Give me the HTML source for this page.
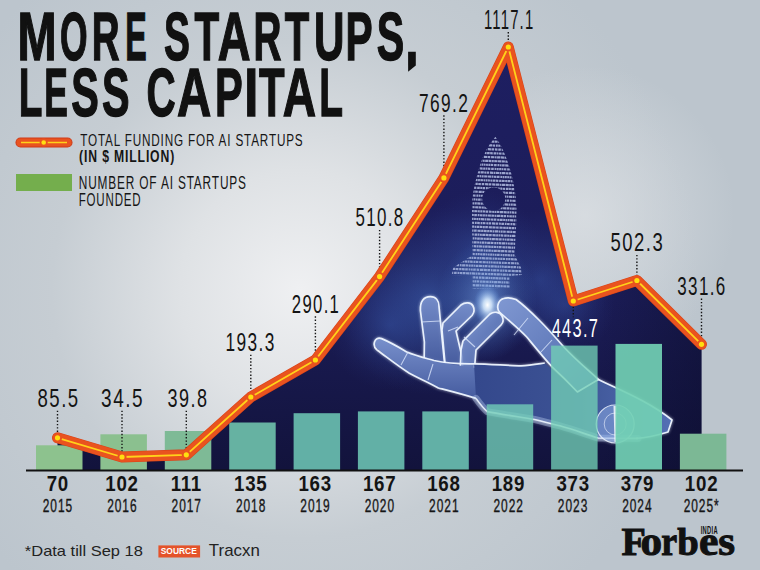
<!DOCTYPE html>
<html><head><meta charset="utf-8">
<style>
html,body{margin:0;padding:0;width:760px;height:570px;overflow:hidden;background:#c3cad1}
svg{display:block}
</style></head><body>
<svg width="760" height="570" viewBox="0 0 760 570">
<defs>
<radialGradient id="bg" cx="300" cy="290" r="400" gradientUnits="userSpaceOnUse">
<stop offset="0" stop-color="#eff0f2"/>
<stop offset="0.3" stop-color="#dfe2e5"/>
<stop offset="0.62" stop-color="#c6cdd3"/>
<stop offset="1" stop-color="#bcc5cd"/>
</radialGradient>
<radialGradient id="bg2" cx="585" cy="215" r="150" gradientUnits="userSpaceOnUse">
<stop offset="0" stop-color="#dde1e5" stop-opacity="0.75"/>
<stop offset="1" stop-color="#dde1e5" stop-opacity="0"/>
</radialGradient>
<linearGradient id="navy" x1="0" y1="47" x2="0" y2="470" gradientUnits="userSpaceOnUse">
<stop offset="0" stop-color="#1e1f62"/>
<stop offset="0.6" stop-color="#1b1c56"/>
<stop offset="1" stop-color="#12133c"/>
</linearGradient>
<radialGradient id="haze1" cx="430" cy="300" r="95" gradientUnits="userSpaceOnUse">
<stop offset="0" stop-color="#4068b8" stop-opacity="0.6"/>
<stop offset="1" stop-color="#2a3c88" stop-opacity="0"/>
</radialGradient>
<radialGradient id="haze2" cx="540" cy="280" r="70" gradientUnits="userSpaceOnUse">
<stop offset="0" stop-color="#3a5cb0" stop-opacity="0.45"/>
<stop offset="1" stop-color="#2a3c88" stop-opacity="0"/>
</radialGradient>
<radialGradient id="haze3" cx="480" cy="250" r="60" gradientUnits="userSpaceOnUse">
<stop offset="0" stop-color="#3a5cb0" stop-opacity="0.45"/>
<stop offset="1" stop-color="#2a3c88" stop-opacity="0"/>
</radialGradient>
<radialGradient id="haze4" cx="390" cy="325" r="65" gradientUnits="userSpaceOnUse">
<stop offset="0" stop-color="#3a5cb0" stop-opacity="0.4"/>
<stop offset="1" stop-color="#2a3c88" stop-opacity="0"/>
</radialGradient>
<radialGradient id="haze5" cx="565" cy="305" r="50" gradientUnits="userSpaceOnUse">
<stop offset="0" stop-color="#3a5cb0" stop-opacity="0.35"/>
<stop offset="1" stop-color="#2a3c88" stop-opacity="0"/>
</radialGradient>
<radialGradient id="glow" cx="0.5" cy="0.5" r="0.5">
<stop offset="0" stop-color="#ffffff" stop-opacity="1"/>
<stop offset="0.3" stop-color="#d8ecff" stop-opacity="0.85"/>
<stop offset="1" stop-color="#5a90e0" stop-opacity="0"/>
</radialGradient>
<radialGradient id="beam" cx="0.5" cy="0.5" r="0.5">
<stop offset="0" stop-color="#7fb0f0" stop-opacity="0.6"/>
<stop offset="1" stop-color="#4070c0" stop-opacity="0"/>
</radialGradient>
<linearGradient id="rdark" x1="600" y1="0" x2="701" y2="0" gradientUnits="userSpaceOnUse">
<stop offset="0" stop-color="#0b0d2c" stop-opacity="0"/>
<stop offset="1" stop-color="#0b0d2c" stop-opacity="0.45"/>
</linearGradient>
<linearGradient id="gfing" x1="0" y1="0" x2="0" y2="1">
<stop offset="0" stop-color="#7890cc"/>
<stop offset="1" stop-color="#42589c"/>
</linearGradient>
<linearGradient id="gfing2" x1="0" y1="0" x2="1" y2="1">
<stop offset="0" stop-color="#8098d2"/>
<stop offset="1" stop-color="#4c66aa"/>
</linearGradient>
<linearGradient id="gpalm" x1="0" y1="0" x2="1" y2="0">
<stop offset="0" stop-color="#34488c"/>
<stop offset="0.5" stop-color="#3c5294"/>
<stop offset="1" stop-color="#5470b4"/>
</linearGradient>
<filter id="soft" x="-20%" y="-20%" width="140%" height="140%"><feGaussianBlur stdDeviation="1.6"/></filter>
<clipPath id="navyclip"><polygon points="57.5,437.8 122,457 186.3,454.8 250.8,397 315.4,360 379.6,276.6 443.9,177.9 508.3,47 573.3,301 636.9,280.5 701.5,344.3 701.5,470 57.5,470"/></clipPath>
<clipPath id="rocketclip"><path d="M495.4,136.8 C487,146 481,160 477.9,172.6 C474,186 472,197 472,207.7 C472,225 472.3,240 472.6,255 L453.3,267.4 L451.6,275 L472.6,276 L472.6,288.4 L509.5,288.4 L509.5,276 L521.8,275 L521,267.4 L514.7,255 C515.5,240 516.5,225 516.5,207.7 C516,195 514,184 511,172.6 C507,158 502,146 495.4,136.8 Z M493.7,199 m-11.5,0 a11.5,11.5 0 1,0 23,0 a11.5,11.5 0 1,0 -23,0 Z" clip-rule="evenodd"/></clipPath>
</defs>
<rect width="760" height="570" fill="url(#bg)"/>
<rect width="760" height="570" fill="url(#bg2)"/>
<polygon points="57.5,437.8 122,457 186.3,454.8 250.8,397 315.4,360 379.6,276.6 443.9,177.9 508.3,47 573.3,301 636.9,280.5 701.5,344.3 701.5,470 57.5,470" fill="url(#navy)"/>
<g clip-path="url(#navyclip)">
<rect x="600" y="250" width="102" height="220" fill="url(#rdark)"/>
<rect x="300" y="180" width="400" height="290" fill="url(#haze1)"/>
<rect x="300" y="180" width="400" height="290" fill="url(#haze2)"/>
<rect x="300" y="180" width="400" height="290" fill="url(#haze3)"/>
<rect x="300" y="180" width="400" height="290" fill="url(#haze4)"/>
<rect x="300" y="180" width="400" height="290" fill="url(#haze5)"/>
<g clip-path="url(#rocketclip)" stroke="#a8b2d8" stroke-width="2.2" stroke-opacity="0.9"><line x1="445" y1="136.0" x2="530" y2="139.0" stroke-dasharray="2.6 0.5 3.2 0.5 3.2 0.5 2.6 0.5 1.8 0.5 3.2 0.5 2.6 0.8 3.2 0.5 1.8 0.5 3.2 0.5"/><line x1="445" y1="139.9" x2="530" y2="142.9" stroke-dasharray="1.8 0.5 2.6 0.8 1.8 0.5 3.2 0.5 2.6 0.5 2.6 0.5 2.6 0.8 3.2 0.5 3.2 0.5 2.6 0.8"/><line x1="445" y1="143.8" x2="530" y2="146.8" stroke-dasharray="2.6 0.8 2.6 0.5 2.6 0.5 2.6 0.5 3.2 0.5 2.6 0.8 1.8 0.5 1.8 0.5 2.6 0.5 3.2 0.5"/><line x1="445" y1="147.7" x2="530" y2="150.7" stroke-dasharray="1.8 0.5 1.8 0.5 1.8 0.5 1.8 0.5 2.6 0.8 3.2 0.5 2.6 0.8 2.6 0.8 2.6 0.8 3.2 0.5"/><line x1="445" y1="151.6" x2="530" y2="154.6" stroke-dasharray="2.6 0.8 2.6 0.5 1.8 0.5 1.8 0.5 1.8 0.5 2.6 0.5 2.6 0.8 2.6 0.5 1.8 0.5 2.6 0.8"/><line x1="445" y1="155.5" x2="530" y2="158.5" stroke-dasharray="1.8 0.5 2.6 0.8 3.2 0.5 2.6 0.8 3.2 0.5 1.8 0.5 3.2 0.5 3.2 0.5 2.6 0.8 3.2 0.5"/><line x1="445" y1="159.4" x2="530" y2="162.4" stroke-dasharray="2.6 0.5 1.8 0.5 1.8 0.5 1.8 0.5 3.2 0.5 2.6 0.5 1.8 0.5 3.2 0.5 3.2 0.5 3.2 0.5"/><line x1="445" y1="163.3" x2="530" y2="166.3" stroke-dasharray="1.8 0.5 2.6 0.5 3.2 0.5 1.8 0.5 1.8 0.5 1.8 0.5 1.8 0.5 2.6 0.8 2.6 0.8 1.8 0.5"/><line x1="445" y1="167.2" x2="530" y2="170.2" stroke-dasharray="1.8 0.5 1.8 0.5 2.6 0.8 2.6 0.5 1.8 0.5 1.8 0.5 2.6 0.8 2.6 0.8 1.8 0.5 1.8 0.5"/><line x1="445" y1="171.1" x2="530" y2="174.1" stroke-dasharray="3.2 0.5 3.2 0.5 1.8 0.5 2.6 0.8 3.2 0.5 1.8 0.5 3.2 0.5 1.8 0.5 3.2 0.5 2.6 0.5"/><line x1="445" y1="175.0" x2="530" y2="178.0" stroke-dasharray="1.8 0.5 1.8 0.5 1.8 0.5 1.8 0.5 1.8 0.5 3.2 0.5 3.2 0.5 1.8 0.5 2.6 0.5 2.6 0.8"/><line x1="445" y1="178.9" x2="530" y2="181.9" stroke-dasharray="1.8 0.5 3.2 0.5 1.8 0.5 2.6 0.5 1.8 0.5 1.8 0.5 1.8 0.5 1.8 0.5 2.6 0.5 2.6 0.8"/><line x1="445" y1="182.8" x2="530" y2="185.8" stroke-dasharray="2.6 0.8 2.6 0.8 3.2 0.5 2.6 0.8 3.2 0.5 3.2 0.5 1.8 0.5 3.2 0.5 3.2 0.5 1.8 0.5"/><line x1="445" y1="186.7" x2="530" y2="189.7" stroke-dasharray="2.6 0.8 2.6 0.5 1.8 0.5 2.6 0.8 1.8 0.5 3.2 0.5 1.8 0.5 3.2 0.5 1.8 0.5 1.8 0.5"/><line x1="445" y1="190.6" x2="530" y2="193.6" stroke-dasharray="2.6 0.8 3.2 0.5 1.8 0.5 1.8 0.5 2.6 0.8 3.2 0.5 3.2 0.5 2.6 0.5 1.8 0.5 1.8 0.5"/><line x1="445" y1="194.5" x2="530" y2="197.5" stroke-dasharray="2.6 0.8 1.8 0.5 1.8 0.5 3.2 0.5 1.8 0.5 2.6 0.8 1.8 0.5 3.2 0.5 1.8 0.5 1.8 0.5"/><line x1="445" y1="198.4" x2="530" y2="201.4" stroke-dasharray="1.8 0.5 1.8 0.5 2.6 0.8 1.8 0.5 3.2 0.5 3.2 0.5 1.8 0.5 2.6 0.5 1.8 0.5 2.6 0.5"/><line x1="445" y1="202.3" x2="530" y2="205.3" stroke-dasharray="1.8 0.5 1.8 0.5 3.2 0.5 1.8 0.5 1.8 0.5 2.6 0.8 1.8 0.5 1.8 0.5 3.2 0.5 2.6 0.5"/><line x1="445" y1="206.2" x2="530" y2="209.2" stroke-dasharray="1.8 0.5 3.2 0.5 2.6 0.5 1.8 0.5 2.6 0.5 1.8 0.5 2.6 0.5 2.6 0.8 1.8 0.5 1.8 0.5"/><line x1="445" y1="210.1" x2="530" y2="213.1" stroke-dasharray="3.2 0.5 1.8 0.5 1.8 0.5 2.6 0.5 2.6 0.8 2.6 0.5 1.8 0.5 1.8 0.5 2.6 0.5 3.2 0.5"/><line x1="445" y1="214.0" x2="530" y2="217.0" stroke-dasharray="2.6 0.8 1.8 0.5 2.6 0.5 1.8 0.5 1.8 0.5 3.2 0.5 2.6 0.5 1.8 0.5 3.2 0.5 2.6 0.5"/><line x1="445" y1="217.9" x2="530" y2="220.9" stroke-dasharray="1.8 0.5 1.8 0.5 1.8 0.5 3.2 0.5 1.8 0.5 3.2 0.5 2.6 0.5 2.6 0.8 1.8 0.5 3.2 0.5"/><line x1="445" y1="221.8" x2="530" y2="224.8" stroke-dasharray="1.8 0.5 2.6 0.8 1.8 0.5 2.6 0.8 1.8 0.5 2.6 0.8 3.2 0.5 2.6 0.8 1.8 0.5 2.6 0.8"/><line x1="445" y1="225.7" x2="530" y2="228.7" stroke-dasharray="2.6 0.5 2.6 0.5 1.8 0.5 2.6 0.8 3.2 0.5 3.2 0.5 2.6 0.8 3.2 0.5 2.6 0.5 1.8 0.5"/><line x1="445" y1="229.6" x2="530" y2="232.6" stroke-dasharray="2.6 0.8 3.2 0.5 1.8 0.5 3.2 0.5 1.8 0.5 2.6 0.5 1.8 0.5 3.2 0.5 1.8 0.5 1.8 0.5"/><line x1="445" y1="233.5" x2="530" y2="236.5" stroke-dasharray="2.6 0.5 1.8 0.5 1.8 0.5 3.2 0.5 2.6 0.5 2.6 0.8 3.2 0.5 1.8 0.5 1.8 0.5 2.6 0.8"/><line x1="445" y1="237.4" x2="530" y2="240.4" stroke-dasharray="1.8 0.5 2.6 0.5 3.2 0.5 1.8 0.5 2.6 0.5 1.8 0.5 3.2 0.5 3.2 0.5 2.6 0.8 1.8 0.5"/><line x1="445" y1="241.3" x2="530" y2="244.3" stroke-dasharray="3.2 0.5 1.8 0.5 1.8 0.5 2.6 0.5 1.8 0.5 3.2 0.5 2.6 0.8 1.8 0.5 1.8 0.5 2.6 0.5"/><line x1="445" y1="245.2" x2="530" y2="248.2" stroke-dasharray="2.6 0.5 1.8 0.5 3.2 0.5 1.8 0.5 2.6 0.5 2.6 0.5 1.8 0.5 2.6 0.5 1.8 0.5 2.6 0.8"/><line x1="445" y1="249.1" x2="530" y2="252.1" stroke-dasharray="3.2 0.5 2.6 0.8 1.8 0.5 1.8 0.5 2.6 0.5 1.8 0.5 3.2 0.5 3.2 0.5 3.2 0.5 2.6 0.8"/><line x1="445" y1="253.0" x2="530" y2="256.0" stroke-dasharray="1.8 0.5 2.6 0.8 1.8 0.5 1.8 0.5 1.8 0.5 2.6 0.5 1.8 0.5 1.8 0.5 1.8 0.5 1.8 0.5"/><line x1="445" y1="256.9" x2="530" y2="259.9" stroke-dasharray="2.6 0.8 1.8 0.5 1.8 0.5 3.2 0.5 3.2 0.5 2.6 0.8 1.8 0.5 2.6 0.5 1.8 0.5 1.8 0.5"/><line x1="445" y1="260.8" x2="530" y2="263.8" stroke-dasharray="1.8 0.5 2.6 0.8 2.6 0.8 3.2 0.5 1.8 0.5 1.8 0.5 1.8 0.5 2.6 0.5 1.8 0.5 2.6 0.8"/><line x1="445" y1="264.7" x2="530" y2="267.7" stroke-dasharray="1.8 0.5 2.6 0.5 3.2 0.5 1.8 0.5 2.6 0.8 1.8 0.5 3.2 0.5 2.6 0.5 1.8 0.5 1.8 0.5"/><line x1="445" y1="268.6" x2="530" y2="271.6" stroke-dasharray="2.6 0.8 3.2 0.5 3.2 0.5 2.6 0.8 1.8 0.5 3.2 0.5 2.6 0.8 1.8 0.5 1.8 0.5 2.6 0.8"/><line x1="445" y1="272.5" x2="530" y2="275.5" stroke-dasharray="1.8 0.5 2.6 0.8 2.6 0.8 2.6 0.8 1.8 0.5 2.6 0.5 2.6 0.5 3.2 0.5 1.8 0.5 3.2 0.5"/><line x1="445" y1="276.4" x2="530" y2="279.4" stroke-dasharray="1.8 0.5 2.6 0.8 2.6 0.5 2.6 0.8 2.6 0.5 1.8 0.5 1.8 0.5 1.8 0.5 3.2 0.5 1.8 0.5"/><line x1="445" y1="280.3" x2="530" y2="283.3" stroke-dasharray="1.8 0.5 2.6 0.8 1.8 0.5 3.2 0.5 2.6 0.8 1.8 0.5 1.8 0.5 3.2 0.5 3.2 0.5 1.8 0.5"/><line x1="445" y1="284.2" x2="530" y2="287.2" stroke-dasharray="3.2 0.5 1.8 0.5 2.6 0.8 2.6 0.5 2.6 0.5 2.6 0.8 1.8 0.5 3.2 0.5 1.8 0.5 3.2 0.5"/><line x1="445" y1="288.1" x2="530" y2="291.1" stroke-dasharray="1.8 0.5 2.6 0.8 2.6 0.5 1.8 0.5 1.8 0.5 1.8 0.5 1.8 0.5 1.8 0.5 2.6 0.8 1.8 0.5"/><line x1="445" y1="292.0" x2="530" y2="295.0" stroke-dasharray="3.2 0.5 1.8 0.5 1.8 0.5 1.8 0.5 3.2 0.5 3.2 0.5 3.2 0.5 2.6 0.5 1.8 0.5 3.2 0.5"/></g>
<ellipse cx="487" cy="300" rx="50" ry="60" fill="url(#beam)"/><ellipse cx="487.5" cy="305" rx="14" ry="20" fill="url(#glow)"/>
<g filter="url(#soft)" opacity="0.7"><path d="M420.4,310.5 C420,301 424,296.7 430.3,296.7 C436,296.7 439,301 439,306.6 L442,338 L444,358 L446,374 L424,374 L424.4,342 Z" fill="url(#gfing)" fill-opacity="0.85" stroke="#eef5ff" stroke-opacity="0.95" stroke-width="1.7" stroke-linejoin="round"/><path d="M443,323 L461,305 C465,302 471,302 473,306 C475,310 474,313 472,315.5 L456,331 L462,357 L463,374 L446,374 L442,330 Z" fill="url(#gfing)" fill-opacity="0.85" stroke="#eef5ff" stroke-opacity="0.95" stroke-width="1.7" stroke-linejoin="round"/><path d="M463,341 L490,314 C494,311 500,312 502,316 C504,320 503,323 501,325 L476,350 L474,374 L460,374 L461,350 Z" fill="url(#gfing2)" fill-opacity="0.85" stroke="#eef5ff" stroke-opacity="0.95" stroke-width="1.7" stroke-linejoin="round"/><path d="M381.6,338.6 C392,343 400,348 406.8,352 C416,356 425,358 434,360.5 C450,364 462,367 490,369 L490,402 C462,394 450,391 438.4,388 C428,382 418,378 409,373 C398,366 388,358 379.5,350 C372,346 374,336 381.6,338.6 Z" fill="url(#gfing)"/><path d="M474,363.8 C490,364 510,365.8 521,365.8 C530,365.5 538,364 544.8,363 L577.4,392 L598.4,379.5 C620,390 650,402 672,420 L668,432 C655,436 645,438 636,438.4 L598,438.4 C580,434 565,428 560,425.8 C550,423 540,421 534.7,419.5 C515,417 500,414 487.4,411.6 C482,408 478,402 476,398.4 Z" fill="url(#gpalm)"/><path d="M377,350 C372,346 374,336 381.6,338.6 C392,343 400,348 406.8,352 C416,356 425,358 434,360.5 C450,364 462,364 474,363.8 C490,364 510,365.8 521,365.8 C530,365.5 538,364 544.8,363" fill="none" stroke="#eef5ff" stroke-opacity="0.95" stroke-width="1.7" stroke-linejoin="round"/><path d="M377,350 C388,358 398,366 409,373 C418,378 428,382 438.4,388 C450,391 462,394 476,398.4" fill="none" stroke="#eef5ff" stroke-opacity="0.95" stroke-width="1.7" stroke-linejoin="round"/><path d="M598.4,379.5 C620,390 650,402 672,420 L668,432 C655,436 645,438 636,438.4" fill="none" stroke="#eef5ff" stroke-opacity="0.95" stroke-width="1.7" stroke-linejoin="round"/><path d="M503.7,298.5 C508,297 512,298 516,299.5 C525,306 532,313 539.5,320.5 C548,329 556,338 564.7,348 C576,360 588,370 598.4,379.5 L577.4,392 C570,384 560,374 552,366.8 C543,357 535,347 526.8,337 C518,328 508,320 499.5,312 C496,308 498,300 503.7,298.5 Z" fill="url(#gfing2)" stroke="#eef5ff" stroke-opacity="0.95" stroke-width="1.7" stroke-linejoin="round"/><path d="M476,398.4 C480,404 484,409 487.4,411.6 C500,414 520,417 534.7,419.5 C545,422 552,424 560,425.8 C575,430 585,434 598,438 L638,438.4" fill="none" stroke="#cfe3ff" stroke-opacity="0.35" stroke-width="7" stroke-linecap="round"/><path d="M476,398.4 C480,404 484,409 487.4,411.6 C500,414 520,417 534.7,419.5 C545,422 552,424 560,425.8 C575,430 585,434 598,438 L638,438.4" fill="none" stroke="#f0f6ff" stroke-opacity="0.9" stroke-width="1.6"/><path d="M408,352 L401,365 M433,364 L428,380 M421,322 L440,321 M448,331 L458,327 M475,347 L464,337 M528,318 L514,335 M552,340 L540,353" stroke="#dfeaff" stroke-opacity="0.75" stroke-width="1.1" fill="none"/><circle cx="615.2" cy="424" r="19" fill="#8fb0e8" fill-opacity="0.5" stroke="#eef4ff" stroke-opacity="0.85" stroke-width="1.2"/><circle cx="615.2" cy="424" r="11" fill="none" stroke="#eef4ff" stroke-opacity="0.6" stroke-width="1"/><path d="M613.5,406 L617,406 L616,442 L614.5,442 Z" fill="#ffffff" fill-opacity="0.8"/></g>
<path d="M420.4,310.5 C420,301 424,296.7 430.3,296.7 C436,296.7 439,301 439,306.6 L442,338 L444,358 L446,374 L424,374 L424.4,342 Z" fill="url(#gfing)" fill-opacity="0.85" stroke="#eef5ff" stroke-opacity="0.95" stroke-width="1.7" stroke-linejoin="round"/><path d="M443,323 L461,305 C465,302 471,302 473,306 C475,310 474,313 472,315.5 L456,331 L462,357 L463,374 L446,374 L442,330 Z" fill="url(#gfing)" fill-opacity="0.85" stroke="#eef5ff" stroke-opacity="0.95" stroke-width="1.7" stroke-linejoin="round"/><path d="M463,341 L490,314 C494,311 500,312 502,316 C504,320 503,323 501,325 L476,350 L474,374 L460,374 L461,350 Z" fill="url(#gfing2)" fill-opacity="0.85" stroke="#eef5ff" stroke-opacity="0.95" stroke-width="1.7" stroke-linejoin="round"/><path d="M381.6,338.6 C392,343 400,348 406.8,352 C416,356 425,358 434,360.5 C450,364 462,367 490,369 L490,402 C462,394 450,391 438.4,388 C428,382 418,378 409,373 C398,366 388,358 379.5,350 C372,346 374,336 381.6,338.6 Z" fill="url(#gfing)"/><path d="M474,363.8 C490,364 510,365.8 521,365.8 C530,365.5 538,364 544.8,363 L577.4,392 L598.4,379.5 C620,390 650,402 672,420 L668,432 C655,436 645,438 636,438.4 L598,438.4 C580,434 565,428 560,425.8 C550,423 540,421 534.7,419.5 C515,417 500,414 487.4,411.6 C482,408 478,402 476,398.4 Z" fill="url(#gpalm)"/><path d="M377,350 C372,346 374,336 381.6,338.6 C392,343 400,348 406.8,352 C416,356 425,358 434,360.5 C450,364 462,364 474,363.8 C490,364 510,365.8 521,365.8 C530,365.5 538,364 544.8,363" fill="none" stroke="#eef5ff" stroke-opacity="0.95" stroke-width="1.7" stroke-linejoin="round"/><path d="M377,350 C388,358 398,366 409,373 C418,378 428,382 438.4,388 C450,391 462,394 476,398.4" fill="none" stroke="#eef5ff" stroke-opacity="0.95" stroke-width="1.7" stroke-linejoin="round"/><path d="M598.4,379.5 C620,390 650,402 672,420 L668,432 C655,436 645,438 636,438.4" fill="none" stroke="#eef5ff" stroke-opacity="0.95" stroke-width="1.7" stroke-linejoin="round"/><path d="M503.7,298.5 C508,297 512,298 516,299.5 C525,306 532,313 539.5,320.5 C548,329 556,338 564.7,348 C576,360 588,370 598.4,379.5 L577.4,392 C570,384 560,374 552,366.8 C543,357 535,347 526.8,337 C518,328 508,320 499.5,312 C496,308 498,300 503.7,298.5 Z" fill="url(#gfing2)" stroke="#eef5ff" stroke-opacity="0.95" stroke-width="1.7" stroke-linejoin="round"/><path d="M476,398.4 C480,404 484,409 487.4,411.6 C500,414 520,417 534.7,419.5 C545,422 552,424 560,425.8 C575,430 585,434 598,438 L638,438.4" fill="none" stroke="#cfe3ff" stroke-opacity="0.35" stroke-width="7" stroke-linecap="round"/><path d="M476,398.4 C480,404 484,409 487.4,411.6 C500,414 520,417 534.7,419.5 C545,422 552,424 560,425.8 C575,430 585,434 598,438 L638,438.4" fill="none" stroke="#f0f6ff" stroke-opacity="0.9" stroke-width="1.6"/><path d="M408,352 L401,365 M433,364 L428,380 M421,322 L440,321 M448,331 L458,327 M475,347 L464,337 M528,318 L514,335 M552,340 L540,353" stroke="#dfeaff" stroke-opacity="0.75" stroke-width="1.1" fill="none"/><circle cx="615.2" cy="424" r="19" fill="#8fb0e8" fill-opacity="0.5" stroke="#eef4ff" stroke-opacity="0.85" stroke-width="1.2"/><circle cx="615.2" cy="424" r="11" fill="none" stroke="#eef4ff" stroke-opacity="0.6" stroke-width="1"/><path d="M613.5,406 L617,406 L616,442 L614.5,442 Z" fill="#ffffff" fill-opacity="0.8"/>
</g>
<g><rect x="36.0" y="445.3" width="46.5" height="24.7" fill="#8dc28e"/><rect x="100.4" y="434.3" width="46.5" height="35.7" fill="#8bc08f"/><rect x="164.8" y="431" width="46.5" height="39.0" fill="#7eba96"/><rect x="229.2" y="422.5" width="46.5" height="47.5" fill="#66b2a2"/><rect x="293.6" y="413.2" width="46.5" height="56.8" fill="#62b0a6"/><rect x="357.9" y="411.4" width="46.5" height="58.6" fill="#62b0a6"/><rect x="422.3" y="411.4" width="46.5" height="58.6" fill="#62b0a6"/><rect x="486.7" y="404.3" width="46.5" height="65.7" fill="#72cdb8" fill-opacity="0.8"/><rect x="551.1" y="345.6" width="46.5" height="124.4" fill="#72d0b6" fill-opacity="0.78"/><rect x="615.5" y="343.9" width="46.5" height="126.1" fill="#72d0b4" fill-opacity="0.92"/><rect x="679.9" y="433.7" width="46.5" height="36.3" fill="#7cb895"/></g>
<line x1="26" y1="470.5" x2="743" y2="470.5" stroke="#111" stroke-width="2"/>
<g stroke="#151515" stroke-width="1.4" stroke-dasharray="1.4 1.9"><line x1="57.5" y1="410.7" x2="57.5" y2="432.3"/><line x1="122" y1="410.7" x2="122" y2="451.5"/><line x1="186.3" y1="410.7" x2="186.3" y2="449.3"/><line x1="250.8" y1="354.7" x2="250.8" y2="391.5"/><line x1="315.4" y1="316.3" x2="315.4" y2="354.5"/><line x1="379.6" y1="229.9" x2="379.6" y2="271.1"/><line x1="443.9" y1="115.3" x2="443.9" y2="172.4"/><line x1="508.3" y1="32.0" x2="508.3" y2="41.5"/><line x1="573.3" y1="306.5" x2="573.3" y2="317.2"/><line x1="636.9" y1="254.9" x2="636.9" y2="275.0"/><line x1="701.5" y1="298.6" x2="701.5" y2="338.8"/></g>
<polyline points="57.5,437.8 122,457 186.3,454.8 250.8,397 315.4,360 379.6,276.6 443.9,177.9 508.3,47 573.3,301 636.9,280.5 701.5,344.3" fill="none" stroke="#d9431b" stroke-width="11" stroke-linejoin="round" stroke-linecap="round"/>
<polyline points="57.5,437.8 122,457 186.3,454.8 250.8,397 315.4,360 379.6,276.6 443.9,177.9 508.3,47 573.3,301 636.9,280.5 701.5,344.3" fill="none" stroke="#e9531f" stroke-width="9.8" stroke-linejoin="round" stroke-linecap="round"/>
<polyline points="57.5,437.8 122,457 186.3,454.8 250.8,397 315.4,360 379.6,276.6 443.9,177.9 508.3,47 573.3,301 636.9,280.5 701.5,344.3" fill="none" stroke="#ffd21a" stroke-width="1.8" stroke-linejoin="round"/>
<g fill="#e9531f"><circle cx="57.5" cy="437.8" r="4.6"/><circle cx="122" cy="457" r="4.6"/><circle cx="186.3" cy="454.8" r="4.6"/><circle cx="250.8" cy="397" r="4.6"/><circle cx="315.4" cy="360" r="4.6"/><circle cx="379.6" cy="276.6" r="4.6"/><circle cx="443.9" cy="177.9" r="4.6"/><circle cx="508.3" cy="47" r="4.6"/><circle cx="573.3" cy="301" r="4.6"/><circle cx="636.9" cy="280.5" r="4.6"/><circle cx="701.5" cy="344.3" r="4.6"/></g>
<g fill="#ffdf10"><circle cx="57.5" cy="437.8" r="2.6"/><circle cx="122" cy="457" r="2.6"/><circle cx="186.3" cy="454.8" r="2.6"/><circle cx="250.8" cy="397" r="2.6"/><circle cx="315.4" cy="360" r="2.6"/><circle cx="379.6" cy="276.6" r="2.6"/><circle cx="443.9" cy="177.9" r="2.6"/><circle cx="508.3" cy="47" r="2.6"/><circle cx="573.3" cy="301" r="2.6"/><circle cx="636.9" cy="280.5" r="2.6"/><circle cx="701.5" cy="344.3" r="2.6"/></g>
<g><text transform="translate(37.48,406.94) scale(0.7126,1)" font-size="26.13" font-weight="normal" style="font-family:'Liberation Sans',sans-serif" fill="#141414" letter-spacing="2.09">85.5</text><text transform="translate(101.08,406.94) scale(0.7269,1)" font-size="26.13" font-weight="normal" style="font-family:'Liberation Sans',sans-serif" fill="#141414" letter-spacing="2.09">34.5</text><text transform="translate(167.61,406.94) scale(0.6912,1)" font-size="26.13" font-weight="normal" style="font-family:'Liberation Sans',sans-serif" fill="#141414" letter-spacing="2.09">39.8</text><text transform="translate(225.58,350.94) scale(0.6593,1)" font-size="26.27" font-weight="normal" style="font-family:'Liberation Sans',sans-serif" fill="#141414" letter-spacing="2.10">193.3</text><text transform="translate(291.76,312.54) scale(0.6462,1)" font-size="25.85" font-weight="normal" style="font-family:'Liberation Sans',sans-serif" fill="#141414" letter-spacing="2.07">290.1</text><text transform="translate(355.52,226.14) scale(0.6615,1)" font-size="25.56" font-weight="normal" style="font-family:'Liberation Sans',sans-serif" fill="#141414" letter-spacing="2.05">510.8</text><text transform="translate(419.00,111.54) scale(0.6788,1)" font-size="25.56" font-weight="normal" style="font-family:'Liberation Sans',sans-serif" fill="#141414" letter-spacing="2.05">769.2</text><text transform="translate(483.97,28.50) scale(0.5331,1)" font-size="27.91" font-weight="normal" style="font-family:'Liberation Sans',sans-serif" fill="#141414" letter-spacing="2.23">1117.1</text><text transform="translate(551.64,337.33) scale(0.6143,1)" font-size="26.69" font-weight="normal" style="font-family:'Liberation Sans',sans-serif" fill="#fff" letter-spacing="2.14">443.7</text><text transform="translate(610.56,251.14) scale(0.7087,1)" font-size="26.13" font-weight="normal" style="font-family:'Liberation Sans',sans-serif" fill="#141414" letter-spacing="2.09">502.3</text><text transform="translate(677.25,294.84) scale(0.6544,1)" font-size="25.99" font-weight="normal" style="font-family:'Liberation Sans',sans-serif" fill="#141414" letter-spacing="2.08">331.6</text></g>
<text transform="translate(46.70,490.88) scale(0.8385,1)" font-size="22.32" font-weight="bold" style="font-family:'Liberation Sans',sans-serif" fill="#141414" letter-spacing="0.89">70</text><text transform="translate(42.74,511.72) scale(0.6657,1)" font-size="17.94" font-weight="normal" style="font-family:'Liberation Sans',sans-serif" fill="#161616" stroke="#161616" stroke-width="0.35" letter-spacing="1.44">2015</text><text transform="translate(105.33,490.88) scale(0.8385,1)" font-size="22.32" font-weight="bold" style="font-family:'Liberation Sans',sans-serif" fill="#141414" letter-spacing="0.89">102</text><text transform="translate(107.14,511.72) scale(0.6657,1)" font-size="17.94" font-weight="normal" style="font-family:'Liberation Sans',sans-serif" fill="#161616" stroke="#161616" stroke-width="0.35" letter-spacing="1.44">2016</text><text transform="translate(170.64,490.88) scale(0.8385,1)" font-size="22.32" font-weight="bold" style="font-family:'Liberation Sans',sans-serif" fill="#141414" letter-spacing="0.89">111</text><text transform="translate(171.57,511.72) scale(0.6657,1)" font-size="17.94" font-weight="normal" style="font-family:'Liberation Sans',sans-serif" fill="#161616" stroke="#161616" stroke-width="0.35" letter-spacing="1.44">2017</text><text transform="translate(234.00,490.88) scale(0.8385,1)" font-size="22.32" font-weight="bold" style="font-family:'Liberation Sans',sans-serif" fill="#141414" letter-spacing="0.89">135</text><text transform="translate(235.92,511.72) scale(0.6657,1)" font-size="17.94" font-weight="normal" style="font-family:'Liberation Sans',sans-serif" fill="#161616" stroke="#161616" stroke-width="0.35" letter-spacing="1.44">2018</text><text transform="translate(298.46,490.88) scale(0.8385,1)" font-size="22.32" font-weight="bold" style="font-family:'Liberation Sans',sans-serif" fill="#141414" letter-spacing="0.89">163</text><text transform="translate(300.34,511.72) scale(0.6657,1)" font-size="17.94" font-weight="normal" style="font-family:'Liberation Sans',sans-serif" fill="#161616" stroke="#161616" stroke-width="0.35" letter-spacing="1.44">2019</text><text transform="translate(362.93,490.88) scale(0.8385,1)" font-size="22.32" font-weight="bold" style="font-family:'Liberation Sans',sans-serif" fill="#141414" letter-spacing="0.89">167</text><text transform="translate(364.67,511.72) scale(0.6657,1)" font-size="17.94" font-weight="normal" style="font-family:'Liberation Sans',sans-serif" fill="#161616" stroke="#161616" stroke-width="0.35" letter-spacing="1.44">2020</text><text transform="translate(427.19,490.88) scale(0.8385,1)" font-size="22.32" font-weight="bold" style="font-family:'Liberation Sans',sans-serif" fill="#141414" letter-spacing="0.89">168</text><text transform="translate(429.12,511.72) scale(0.6657,1)" font-size="17.94" font-weight="normal" style="font-family:'Liberation Sans',sans-serif" fill="#161616" stroke="#161616" stroke-width="0.35" letter-spacing="1.44">2021</text><text transform="translate(491.63,490.88) scale(0.8385,1)" font-size="22.32" font-weight="bold" style="font-family:'Liberation Sans',sans-serif" fill="#141414" letter-spacing="0.89">189</text><text transform="translate(493.52,511.72) scale(0.6657,1)" font-size="17.94" font-weight="normal" style="font-family:'Liberation Sans',sans-serif" fill="#161616" stroke="#161616" stroke-width="0.35" letter-spacing="1.44">2022</text><text transform="translate(556.38,490.88) scale(0.8385,1)" font-size="22.32" font-weight="bold" style="font-family:'Liberation Sans',sans-serif" fill="#141414" letter-spacing="0.89">373</text><text transform="translate(557.87,511.72) scale(0.6657,1)" font-size="17.94" font-weight="normal" style="font-family:'Liberation Sans',sans-serif" fill="#161616" stroke="#161616" stroke-width="0.35" letter-spacing="1.44">2023</text><text transform="translate(620.77,490.88) scale(0.8385,1)" font-size="22.32" font-weight="bold" style="font-family:'Liberation Sans',sans-serif" fill="#141414" letter-spacing="0.89">379</text><text transform="translate(622.18,511.72) scale(0.6657,1)" font-size="17.94" font-weight="normal" style="font-family:'Liberation Sans',sans-serif" fill="#161616" stroke="#161616" stroke-width="0.35" letter-spacing="1.44">2024</text><text transform="translate(684.84,490.88) scale(0.8385,1)" font-size="22.32" font-weight="bold" style="font-family:'Liberation Sans',sans-serif" fill="#141414" letter-spacing="0.89">102</text><text transform="translate(683.69,511.72) scale(0.6657,1)" font-size="17.94" font-weight="normal" style="font-family:'Liberation Sans',sans-serif" fill="#161616" stroke="#161616" stroke-width="0.35" letter-spacing="1.44">2025*</text>
<text transform="translate(17.61,59.60) scale(0.6816,1)" font-size="68.75" font-weight="bold" style="font-family:'Liberation Sans',sans-serif" fill="#111" stroke="#111" stroke-width="1.4">M</text><text transform="translate(60.01,59.60) scale(0.5156,1)" font-size="68.75" font-weight="bold" style="font-family:'Liberation Sans',sans-serif" fill="#111" stroke="#111" stroke-width="1.4">O</text><text transform="translate(91.76,59.60) scale(0.5603,1)" font-size="68.75" font-weight="bold" style="font-family:'Liberation Sans',sans-serif" fill="#111" stroke="#111" stroke-width="1.4">R</text><text transform="translate(125.37,59.60) scale(0.4685,1)" font-size="68.75" font-weight="bold" style="font-family:'Liberation Sans',sans-serif" fill="#111" stroke="#111" stroke-width="1.4">E</text><text transform="translate(163.94,59.60) scale(0.5643,1)" font-size="68.75" font-weight="bold" style="font-family:'Liberation Sans',sans-serif" fill="#111" stroke="#111" stroke-width="1.4">S</text><text transform="translate(194.41,59.60) scale(0.5887,1)" font-size="68.75" font-weight="bold" style="font-family:'Liberation Sans',sans-serif" fill="#111" stroke="#111" stroke-width="1.4">T</text><text transform="translate(217.72,59.60) scale(0.6600,1)" font-size="68.75" font-weight="bold" style="font-family:'Liberation Sans',sans-serif" fill="#111" stroke="#111" stroke-width="1.4">A</text><text transform="translate(253.45,59.60) scale(0.5626,1)" font-size="68.75" font-weight="bold" style="font-family:'Liberation Sans',sans-serif" fill="#111" stroke="#111" stroke-width="1.4">R</text><text transform="translate(284.72,59.60) scale(0.5838,1)" font-size="68.75" font-weight="bold" style="font-family:'Liberation Sans',sans-serif" fill="#111" stroke="#111" stroke-width="1.4">T</text><text transform="translate(313.97,59.60) scale(0.6137,1)" font-size="68.75" font-weight="bold" style="font-family:'Liberation Sans',sans-serif" fill="#111" stroke="#111" stroke-width="1.4">U</text><text transform="translate(345.42,59.60) scale(0.5911,1)" font-size="68.75" font-weight="bold" style="font-family:'Liberation Sans',sans-serif" fill="#111" stroke="#111" stroke-width="1.4">P</text><text transform="translate(376.87,59.60) scale(0.5984,1)" font-size="68.75" font-weight="bold" style="font-family:'Liberation Sans',sans-serif" fill="#111" stroke="#111" stroke-width="1.4">S</text><path d="M408.1,51.7 L415.8,51.7 L415.8,65.6 L408.1,71.7 Z" fill="#111"/><text transform="translate(18.64,115.80) scale(0.5692,1)" font-size="68.02" font-weight="bold" style="font-family:'Liberation Sans',sans-serif" fill="#111" stroke="#111" stroke-width="1.4">L</text><text transform="translate(44.16,115.80) scale(0.5205,1)" font-size="68.02" font-weight="bold" style="font-family:'Liberation Sans',sans-serif" fill="#111" stroke="#111" stroke-width="1.4">E</text><text transform="translate(71.26,115.80) scale(0.6072,1)" font-size="68.02" font-weight="bold" style="font-family:'Liberation Sans',sans-serif" fill="#111" stroke="#111" stroke-width="1.4">S</text><text transform="translate(102.06,115.80) scale(0.6072,1)" font-size="68.02" font-weight="bold" style="font-family:'Liberation Sans',sans-serif" fill="#111" stroke="#111" stroke-width="1.4">S</text><text transform="translate(146.61,115.80) scale(0.5930,1)" font-size="68.02" font-weight="bold" style="font-family:'Liberation Sans',sans-serif" fill="#111" stroke="#111" stroke-width="1.4">C</text><text transform="translate(177.07,115.80) scale(0.6977,1)" font-size="68.02" font-weight="bold" style="font-family:'Liberation Sans',sans-serif" fill="#111" stroke="#111" stroke-width="1.4">A</text><text transform="translate(215.06,115.80) scale(0.6104,1)" font-size="68.02" font-weight="bold" style="font-family:'Liberation Sans',sans-serif" fill="#111" stroke="#111" stroke-width="1.4">P</text><text transform="translate(244.15,115.80) scale(0.7453,1)" font-size="68.02" font-weight="bold" style="font-family:'Liberation Sans',sans-serif" fill="#111" stroke="#111" stroke-width="1.4">I</text><text transform="translate(258.90,115.80) scale(0.6150,1)" font-size="68.02" font-weight="bold" style="font-family:'Liberation Sans',sans-serif" fill="#111" stroke="#111" stroke-width="1.4">T</text><text transform="translate(282.70,115.80) scale(0.6780,1)" font-size="68.02" font-weight="bold" style="font-family:'Liberation Sans',sans-serif" fill="#111" stroke="#111" stroke-width="1.4">A</text><text transform="translate(319.13,115.80) scale(0.5720,1)" font-size="68.02" font-weight="bold" style="font-family:'Liberation Sans',sans-serif" fill="#111" stroke="#111" stroke-width="1.4">L</text>
<rect x="16" y="138" width="56" height="9" rx="4.5" fill="#e9531f" stroke="#cf3b18" stroke-width="1.1"/>
<line x1="21" y1="142.5" x2="67" y2="142.5" stroke="#ffd21a" stroke-width="1.6"/>
<circle cx="43.7" cy="142.5" r="4" fill="#e9531f"/>
<circle cx="43.7" cy="142.5" r="2.3" fill="#ffdf10"/>
<rect x="16" y="174" width="56" height="17" fill="#74ae4d"/>
<text transform="translate(80.24,146.20) scale(0.6789,1)" font-size="17.30" font-weight="normal" style="font-family:'Liberation Sans',sans-serif" fill="#151515" letter-spacing="1.21">TOTAL FUNDING FOR AI STARTUPS</text>
<text transform="translate(79.09,162.44) scale(0.7340,1)" font-size="16.63" font-weight="bold" style="font-family:'Liberation Sans',sans-serif" fill="#151515" letter-spacing="1.16">(IN $ MILLION)</text>
<text transform="translate(78.73,188.50) scale(0.6753,1)" font-size="17.59" font-weight="normal" style="font-family:'Liberation Sans',sans-serif" fill="#151515" letter-spacing="1.23">NUMBER OF AI STARTUPS</text>
<text transform="translate(78.75,205.50) scale(0.6455,1)" font-size="17.88" font-weight="normal" style="font-family:'Liberation Sans',sans-serif" fill="#151515" letter-spacing="1.25">FOUNDED</text>
<text transform="translate(24.84,556.20) scale(1.0681,1)" font-size="15.41" font-weight="normal" style="font-family:'Liberation Sans',sans-serif" fill="#222">*Data till Sep 18</text>
<rect x="158.4" y="545.4" width="41.7" height="12.1" fill="#e4532a"/>
<text transform="translate(160.75,554.30) scale(0.8925,1)" font-size="9.45" font-weight="bold" style="font-family:'Liberation Sans',sans-serif" fill="#fff">SOURCE</text>
<text transform="translate(208.83,556.40) scale(1.0559,1)" font-size="15.99" font-weight="normal" style="font-family:'Liberation Sans',sans-serif" fill="#222">Tracxn</text>
<text transform="translate(621.38,555.10) scale(0.9780,1)" font-size="40.83" font-weight="bold" style="font-family:'Liberation Serif',serif" fill="#111" stroke="#111" stroke-width="1.0">F</text>
<text transform="translate(640.56,555.40) scale(1.0668,1)" font-size="40.46" font-weight="bold" style="font-family:'Liberation Serif',serif" fill="#111" stroke="#111" stroke-width="1.0">o</text>
<text transform="translate(661.37,555.10) scale(0.9041,1)" font-size="39.66" font-weight="bold" style="font-family:'Liberation Serif',serif" fill="#111" stroke="#111" stroke-width="1.0">r</text>
<text transform="translate(677.24,555.12) scale(1.0051,1)" font-size="38.49" font-weight="bold" style="font-family:'Liberation Serif',serif" fill="#111" stroke="#111" stroke-width="1.0">b</text>
<text transform="translate(699.01,555.39) scale(1.0769,1)" font-size="40.62" font-weight="bold" style="font-family:'Liberation Serif',serif" fill="#111" stroke="#111" stroke-width="1.0">e</text>
<text transform="translate(718.21,555.40) scale(1.0657,1)" font-size="40.46" font-weight="bold" style="font-family:'Liberation Serif',serif" fill="#111" stroke="#111" stroke-width="1.0">s</text>
<text transform="translate(700.72,533.80) scale(0.5080,1)" font-size="11.34" font-weight="bold" style="font-family:'Liberation Sans',sans-serif" fill="#111" letter-spacing="0.57">INDIA</text>
</svg>
</body></html>
